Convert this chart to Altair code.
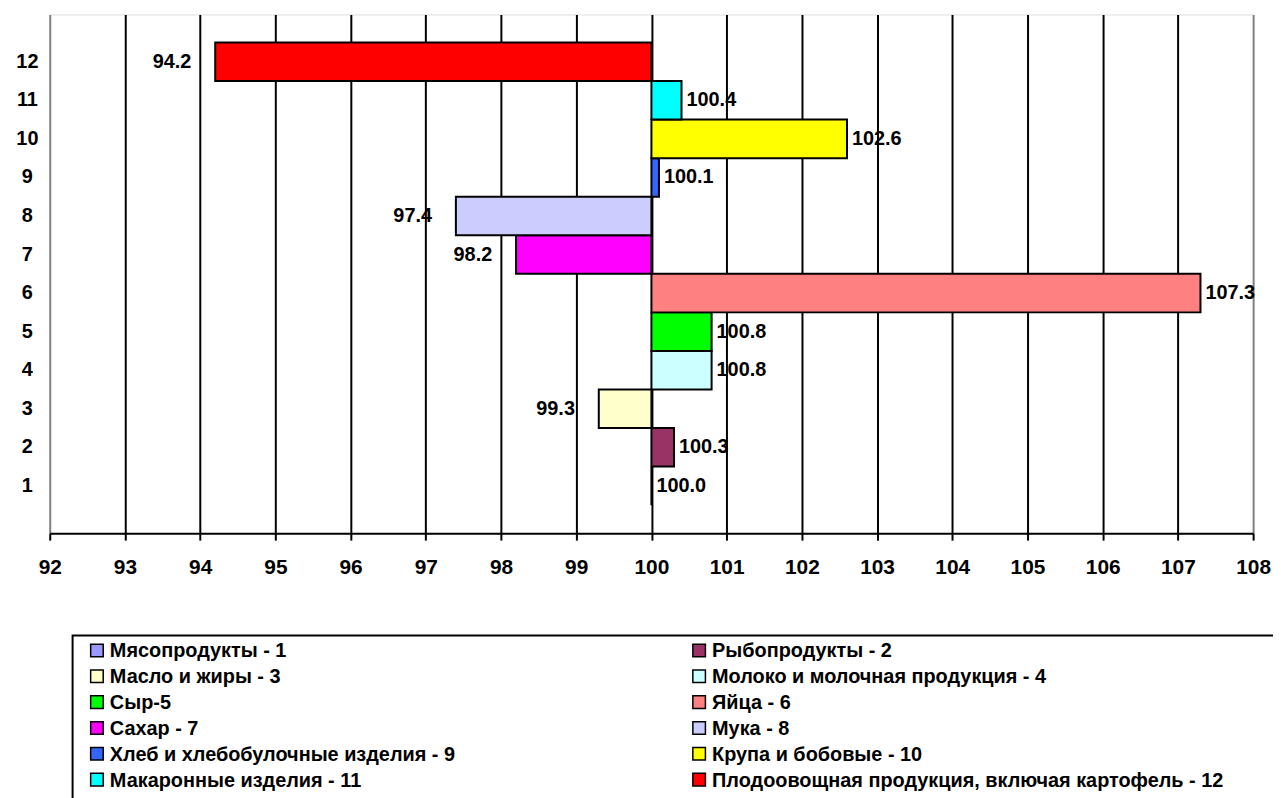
import altair as alt
import pandas as pd

FONT = "Liberation Sans"

ids = list(range(1, 13))
legend_labels = [
    "Мясопродукты - 1",
    "Рыбопродукты - 2",
    "Масло и жиры - 3",
    "Молоко и молочная продукция - 4",
    "Сыр-5",
    "Яйца - 6",
    "Сахар - 7",
    "Мука - 8",
    "Хлеб и хлебобулочные изделия - 9",
    "Крупа и бобовые - 10",
    "Макаронные изделия - 11",
    "Плодоовощная продукция, включая картофель - 12",
]
values = [100.0, 100.3, 99.3, 100.8, 100.8, 107.3, 98.2, 97.4, 100.1, 102.6, 100.4, 94.2]
colors = ["#9999FF", "#993366", "#FFFFCC", "#CCFFFF", "#00FF00", "#FF8080",
          "#FF00FF", "#CCCCFF", "#3366FF", "#FFFF00", "#00FFFF", "#FF0000"]
x_ticks = list(range(92, 109))
baseline_value = 100

df = pd.DataFrame({
    "id": [str(i) for i in ids],
    "label": legend_labels,
    "value": values,
    "base": [baseline_value] * len(ids),
    "col": [(i - 1) % 2 for i in ids],
    "row": [(i - 1) // 2 for i in ids],
    "txt": [f"{v:.1f}" for v in values],
})

y_order = [str(i) for i in reversed(ids)]

color = alt.Color("label:N", scale=alt.Scale(domain=legend_labels, range=colors), legend=None)

grid_color = {"condition": {"test": "datum.value === 92 || datum.value === 108", "value": "#808080"},
              "value": "black"}

x_enc = alt.X(
    "value:Q",
    scale=alt.Scale(domain=[92, 108], nice=False, zero=False),
    axis=alt.Axis(values=x_ticks, title=None, grid=True, gridColor=grid_color, gridWidth=2,
                  gridOpacity=1, domainColor="black", domainWidth=2, tickColor="black",
                  tickWidth=2, tickSize=7, labelFontSize=21, labelFontWeight="bold",
                  labelFont=FONT, labelPadding=17, labelColor="black", format="d",
                  labelFlush=False),
)
y_enc = alt.Y(
    "id:N", sort=y_order,
    scale=alt.Scale(paddingInner=0, paddingOuter=0.727),
    axis=alt.Axis(title=None, domain=False, ticks=False, tickSize=0, labelPadding=23,
                  labelAlign="center", labelFontSize=20, labelFontWeight="bold",
                  labelFont=FONT, labelColor="black", grid=False),
)

bars = alt.Chart(df).mark_bar(stroke="black", strokeWidth=2, opacity=1).encode(
    x=x_enc, x2="base:Q", y=y_enc, color=color
)
lab_pos = alt.Chart(df).transform_filter("datum.value >= 100").mark_text(
    align="left", baseline="middle", dx=5, fontSize=20, fontWeight="bold", font=FONT, color="black"
).encode(x="value:Q", y=alt.Y("id:N", sort=y_order), text="txt:N")
lab_neg = alt.Chart(df).transform_filter("datum.value < 100").mark_text(
    align="right", baseline="middle", dx=-24, fontSize=20, fontWeight="bold", font=FONT, color="black"
).encode(x="value:Q", y=alt.Y("id:N", sort=y_order), text="txt:N")

main = alt.layer(bars, lab_pos, lab_neg)

leg_x = alt.X("col:Q", scale=alt.Scale(domain=[0, 1], range=[47.5, 653.5]), axis=None)
leg_y = alt.Y("row:Q", scale=alt.Scale(domain=[0, 5], range=[640, 770]), axis=None)

box = alt.Chart(pd.DataFrame({"k": [0]})).mark_rect(
    stroke="black", strokeWidth=2, fillOpacity=0, fill="white"
).encode(x=alt.value(23), x2=alt.value(1250), y=alt.value(625), y2=alt.value(820))

squares = alt.Chart(df).mark_square(size=160, filled=True, stroke="black", strokeWidth=1.5,
                                    opacity=1).encode(x=leg_x, y=leg_y, color=color)
texts = alt.Chart(df).mark_text(align="left", baseline="middle", dx=13, dy=1, fontSize=20,
                                fontWeight="bold", font=FONT, color="black").encode(
    x=leg_x, y=leg_y, text="label:N")

legend = alt.layer(box, squares, texts)

chart = alt.layer(main, legend).resolve_scale(x="independent", y="independent").properties(
    width=1211, height=522,
    padding={"left": 42, "top": 4, "right": 20, "bottom": 264},
    autosize=alt.AutoSizeParams(type="none"),
).configure_view(stroke="#808080", strokeWidth=2).configure(font=FONT)

chart.save("out.html", embed_options={"renderer": "svg", "actions": False})
